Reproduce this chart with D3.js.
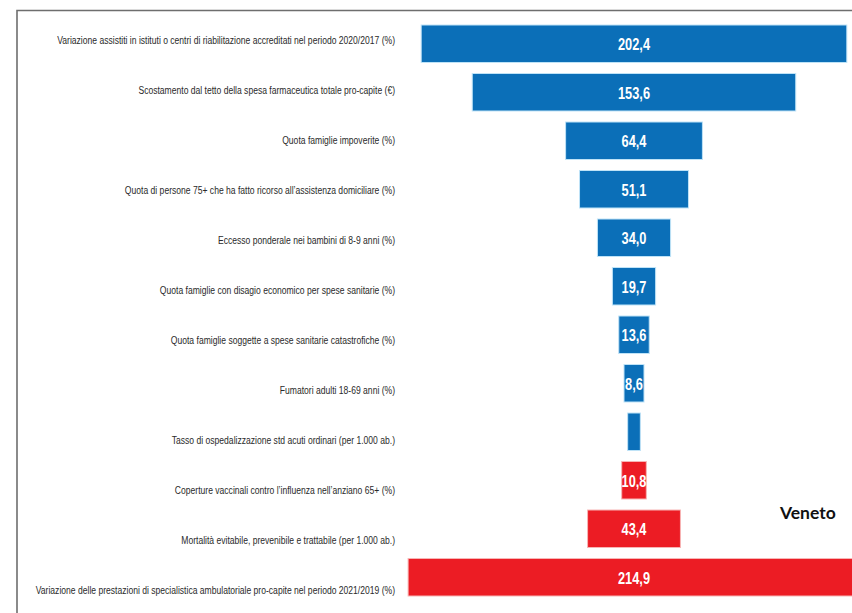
<!DOCTYPE html>
<html>
<head>
<meta charset="utf-8">
<script src="https://cdn.jsdelivr.net/npm/d3@7"></script>
<style>
  html, body { margin: 0; padding: 0; background: #fff; }
  svg { display: block; }
</style>
</head>
<body>
<svg id="chart" width="852" height="613"></svg>
<script>
// Indicatori Veneto: scostamento rispetto alla media
const categories = [
  "Variazione assistiti in istituti o centri di riabilitazione accreditati nel periodo 2020/2017 (%)",
  "Scostamento dal tetto della spesa farmaceutica totale pro-capite (€)",
  "Quota famiglie impoverite (%)",
  "Quota di persone 75+ che ha fatto ricorso all’assistenza domiciliare (%)",
  "Eccesso ponderale nei bambini di 8-9 anni (%)",
  "Quota famiglie con disagio economico per spese sanitarie (%)",
  "Quota famiglie soggette a spese sanitarie catastrofiche (%)",
  "Fumatori adulti 18-69 anni (%)",
  "Tasso di ospedalizzazione std acuti ordinari (per 1.000 ab.)",
  "Coperture vaccinali contro l’influenza nell’anziano 65+ (%)",
  "Mortalità evitabile, prevenibile e trattabile (per 1.000 ab.)",
  "Variazione delle prestazioni di specialistica ambulatoriale pro-capite nel periodo 2021/2019 (%)"
];
const values = [202.4, 153.6, 64.4, 51.1, 34.0, 19.7, 13.6, 8.6, 5.1, 10.8, 43.4, 214.9];
const valueLabels = ["202,4", "153,6", "64,4", "51,1", "34,0", "19,7", "13,6", "8,6", "", "10,8", "43,4", "214,9"];
const esito = ["pos", "pos", "pos", "pos", "pos", "pos", "pos", "pos", "pos", "neg", "neg", "neg"];
const regione = "Veneto";

const rows = categories.map((c, i) => ({
  cat: c, value: values[i], label: valueLabels[i], esito: esito[i]
}));

const svg = d3.select("#chart");
const W = 852, H = 613;
const cx = 634; // asse centrale delle barre
const labelRight = 395;
const labelMaxWidth = 360; // larghezza dell'etichetta più lunga
const narrow = "'Liberation Sans', Arial, sans-serif";

const fill = { pos: "#0b6fb8", neg: "#ec1c24" };
const edge = { pos: "#bfe3f7", neg: "#f7b5b5" };

const x = d3.scaleLinear().domain([0, 200]).range([0, 418.6]);
const y = d3.scaleBand().domain(categories).range([25, 596]).paddingInner(0.227).paddingOuter(0);
const yLab = d3.scalePoint().domain(categories).range([40, 590]);

// cornice
svg.append("path")
  .attr("d", `M17,${H} L17,10.5 L${W},10.5`)
  .attr("fill", "none")
  .attr("stroke", "#6e6e6e")
  .attr("stroke-width", 1.6);

// barre centrate
svg.append("g").selectAll("rect")
  .data(rows)
  .join("rect")
  .attr("x", d => cx - x(d.value) / 2 - 1)
  .attr("width", d => x(d.value) + 2)
  .attr("y", d => y(d.cat))
  .attr("height", y.bandwidth())
  .attr("fill", d => fill[d.esito])
  .attr("stroke", d => edge[d.esito])
  .attr("stroke-width", 1);

// valori dentro le barre (carattere stretto)
svg.append("g").selectAll("text")
  .data(rows.filter(d => d.label))
  .join("text")
  .attr("transform", d => `translate(${cx},${y(d.cat) + y.bandwidth() / 2 + 1}) scale(0.8,1)`)
  .attr("text-anchor", "middle")
  .attr("dominant-baseline", "central")
  .attr("fill", "#fff")
  .attr("font-family", narrow)
  .attr("font-weight", "bold")
  .attr("font-size", 16)
  .text(d => d.label);

// etichette indicatori, compresse orizzontalmente
const labels = svg.append("g").selectAll("text")
  .data(rows)
  .join("text")
  .attr("text-anchor", "end")
  .attr("dominant-baseline", "central")
  .attr("fill", "#2a2a2a")
  .attr("font-family", narrow)
  .attr("font-size", 11.5)
  .text(d => d.cat);

const widest = d3.max(labels.nodes(), n => n.getComputedTextLength());
const sx = Math.min(1, labelMaxWidth / widest);
labels.attr("transform", d => `translate(${labelRight},${yLab(d.cat)}) scale(${sx},1)`);

// nome regione
svg.append("text")
  .attr("x", 780)
  .attr("y", 519)
  .attr("fill", "#111")
  .attr("font-family", "Lato, 'Open Sans', sans-serif")
  .attr("font-weight", "bold")
  .attr("font-size", 17.5)
  .text(regione);
</script>
</body>
</html>
